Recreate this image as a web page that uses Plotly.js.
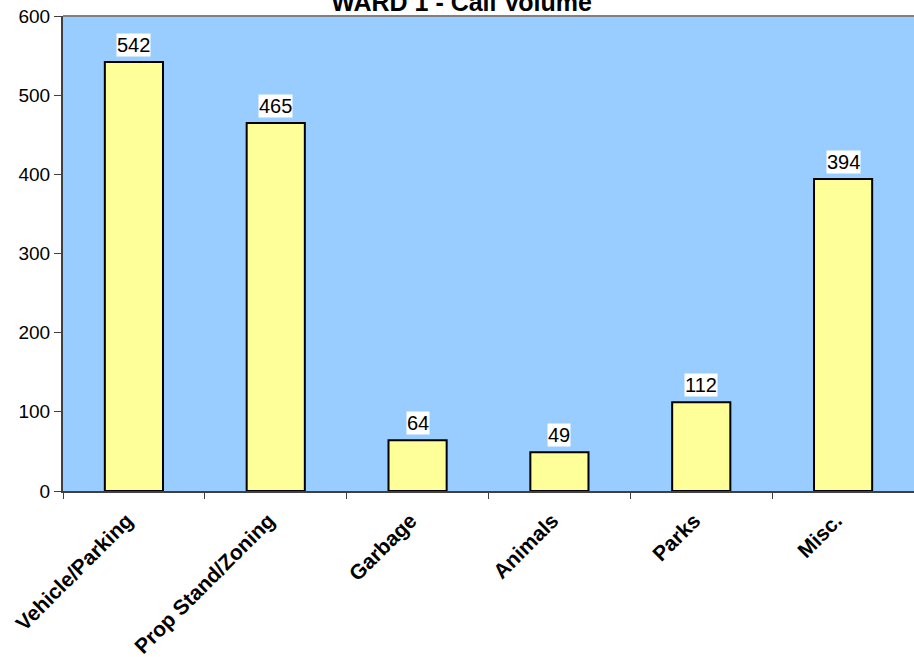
<!DOCTYPE html>
<html>
<head>
<meta charset="utf-8">
<script src="https://cdn.plot.ly/plotly-3.0.1.min.js"></script>
<style>html,body{margin:0;padding:0;background:#fff;}#chart{width:914px;height:657px;}</style>
</head>
<body>
<div id="chart"></div>
<script>
const categories = ["Vehicle/Parking", "Prop Stand/Zoning", "Garbage", "Animals", "Parks", "Misc."];
const callVolume = [542, 465, 64, 49, 112, 394];
const yTickValues = [0, 100, 200, 300, 400, 500, 600];

const FONT = "Liberation Sans, Arial, sans-serif";

const trace = {
  type: "bar",
  x: categories,
  y: callVolume,
  marker: { color: "#FFFF99", line: { color: "#000000", width: 2 } },
  hoverinfo: "skip"
};

const annotations = categories.map((c, i) => ({
  x: c, y: callVolume[i], xref: "x", yref: "y",
  text: String(callVolume[i]),
  showarrow: false, yanchor: "bottom", yshift: 5,
  bgcolor: "#FFFFFF", borderpad: 0,
  font: { family: FONT, size: 20, color: "#000" }
}));

const layout = {
  width: 914, height: 657,
  margin: { l: 63, r: 0, t: 16, b: 166 },
  paper_bgcolor: "#FFFFFF",
  plot_bgcolor: "#99CCFF",
  showlegend: false,
  bargap: 0.59,
  title: {
    text: "<b>WARD 1 - Call Volume</b>",
    x: 0.505, xref: "container", xanchor: "center",
    y: 1 - 2 / 657, yref: "container", yanchor: "middle", pad: { t: 0, b: 0 },
    font: { family: FONT, size: 25, color: "#000" }
  },
  xaxis: {
    type: "category",
    tickson: "boundaries",
    ticks: "outside", ticklen: 6, tickcolor: "#404040", tickwidth: 1,
    showline: true, linecolor: "#404040", linewidth: 2,
    tickangle: -45,
    ticklabelstandoff: 7,
    ticklabelshift: -7,
    tickfont: { family: FONT, size: 21, color: "#000", weight: "bold" },
    showgrid: false, zeroline: false, fixedrange: true
  },
  yaxis: {
    range: [0, 600],
    tickvals: yTickValues,
    ticktext: yTickValues.map(String),
    ticks: "outside", ticklen: 7, tickcolor: "#404040", tickwidth: 1,
    showline: true, linecolor: "#404040", linewidth: 2,
    tickfont: { family: FONT, size: 19, color: "#000" },
    showgrid: false, zeroline: false, fixedrange: true
  },
  shapes: [{
    type: "line", xref: "paper", yref: "paper", x0: 0, x1: 1, y0: 1, y1: 1,
    line: { color: "#808080", width: 2 }
  }],
  annotations: annotations
};

Plotly.newPlot("chart", [trace], layout, { displayModeBar: false, staticPlot: true });
</script>
</body>
</html>
